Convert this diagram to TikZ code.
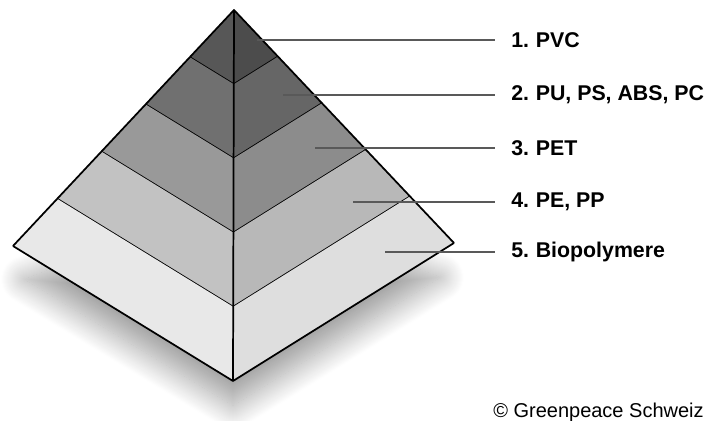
\documentclass[tikz,border=0pt]{standalone}
\usepackage{fontspec}
\setmainfont{Liberation Sans}
\usetikzlibrary{calc,shadows.blur}
\tikzset{
  face/.style={draw=black, line width=1.3pt, line join=round},
  lead/.style={draw=black!65, line width=0.8pt},
  lbl/.style={anchor=west, font=\fontsize{16}{19}\selectfont\bfseries, inner xsep=12pt, inner ysep=0pt},
  credit/.style={anchor=base west, font=\fontsize{15}{18}\selectfont, inner sep=0pt}
}
\newcommand{\nr}[1]{\makebox[1.15em][l]{#1}}

\begin{document}
\begin{tikzpicture}[x=0.75pt, y=-0.75pt]
  \useasboundingbox (0,0) rectangle (707,421);
  % soft shadow below the base
  \path[blur shadow={shadow xshift=0pt, shadow yshift=-22pt, shadow blur radius=18pt,
      shadow blur steps=25, shadow opacity=38}]
    (25,250) -- (233,376) -- (440,248) -- (233,170) -- cycle;
  % corners of the pyramid
  \coordinate (top) at (234,10);
  \coordinate (lc) at (13,246);
  \coordinate (rc) at (454,243);
  \coordinate (bot) at (233,381);
  % five layers, left and right face
  \foreach \i/\lt/\rt in {1/66/70, 2/56/60, 3/40/45, 4/24/28, 5/9/13} {
    \pgfmathsetmacro\fa{(\i-1)/5}
    \pgfmathsetmacro\fb{\i/5}
    \fill[black!\lt] ($(top)!\fa!(lc)$) -- ($(top)!\fa!(bot)$) -- ($(top)!\fb!(bot)$) -- ($(top)!\fb!(lc)$) -- cycle;
    \fill[black!\rt] ($(top)!\fa!(rc)$) -- ($(top)!\fa!(bot)$) -- ($(top)!\fb!(bot)$) -- ($(top)!\fb!(rc)$) -- cycle;
    \draw[face] ($(top)!\fb!(lc)$) -- ($(top)!\fb!(bot)$) -- ($(top)!\fb!(rc)$);
  }
  \draw[face] (lc) -- (top) -- (rc);
  \draw[face] (top) -- (bot);

  % labels
  \node[lbl] (pvc) at (495,40) {\nr{1.}PVC};
  \node[lbl] (pu) at (495,95) {\nr{2.}PU, PS, ABS, PC};
  \node[lbl] (pet) at (495,148) {\nr{3.}PET};
  \node[lbl] (pe) at (495,202) {\nr{4.}PE, PP};
  \node[lbl] (bio) at (495,252) {\nr{5.}Biopolymere};
  \coordinate (p1) at (257,40);
  \coordinate (p2) at (283,95);
  \coordinate (p3) at (315,148);
  \coordinate (p4) at (353,202);
  \coordinate (p5) at (385,252);
  \draw[lead] (p1) -- (pvc.west);
  \draw[lead] (p2) -- (pu.west);
  \draw[lead] (p3) -- (pet.west);
  \draw[lead] (p4) -- (pe.west);
  \draw[lead] (p5) -- (bio.west);

  \node[credit] (src) at (493,417) {© Greenpeace Schweiz};
\end{tikzpicture}
\end{document}
